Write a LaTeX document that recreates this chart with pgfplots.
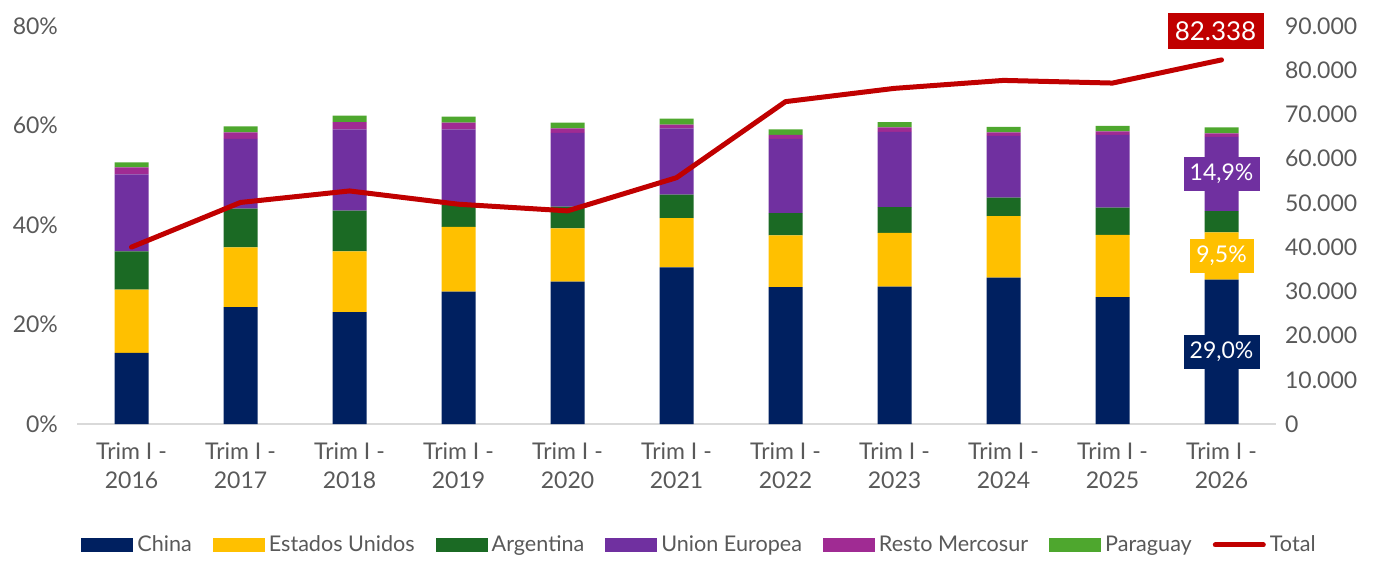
\documentclass[border=0pt]{standalone}
\usepackage{pgfplots}
\usepackage{pgfplotstable}
\pgfplotsset{compat=1.18}
\usepackage{fontspec}
\setmainfont{Lato}
\usetikzlibrary{calc}

\definecolor{cchina}{HTML}{002060}
\definecolor{cusa}{HTML}{FFC000}
\definecolor{carg}{HTML}{1B6A24}
\definecolor{cue}{HTML}{7030A0}
\definecolor{cresto}{HTML}{A02B93}
\definecolor{cpar}{HTML}{4EA72E}
\definecolor{ctotal}{HTML}{C00000}
\definecolor{tickgray}{HTML}{595959}
\definecolor{axgray}{HTML}{D9D9D9}

% participacion por destino (%) y total (miles)
\pgfplotstableread{
x  china usa  arg  ue   resto par total
0  14.3  12.7 7.7  15.5 1.4   1.0 40000
1  23.5  12.0 7.8  14.0 1.3   1.2 50100
2  22.5  12.2 8.2  16.3 1.5   1.3 52700
3  26.6  13.0 4.4  15.2 1.4   1.2 49700
4  28.6  10.7 4.4  14.8 0.9   1.2 48200
5  31.5  9.9  4.7  13.3 0.8   1.2 55700
6  27.5  10.4 4.5  14.9 0.8   1.1 72900
7  27.6  10.8 5.2  15.1 0.9   1.1 75900
8  29.4  12.4 3.7  12.4 0.7   1.1 77700
9  25.5  12.5 5.5  14.6 0.7   1.1 77100
10 29.0  9.5  4.3  14.9 0.7   1.2 82338
}\datatable

\tikzset{lbl/.style={text=white, font=\fontsize{11.5}{12}\selectfont, inner sep=3pt, minimum height=17pt}}

\begin{document}
\begin{tikzpicture}
\pgfplotsset{
  base/.style={
    scale only axis, width=599.5pt, height=199pt,
    xmin=-0.5, xmax=10.5,
    major tick length=0pt,
    /pgf/number format/assume math mode=true,
    tick label style={font=\fontsize{11.5}{14.5}\selectfont, text=tickgray},
  },
}
\begin{axis}[
  base, name=ax,
  ybar stacked, bar width=17pt,
  ymin=0, ymax=80, ytick={0,20,...,80},
  yticklabel={\pgfmathprintnumber{\tick}\%},
  yticklabel style={xshift=-6pt},
  axis x line*=bottom, axis y line*=left,
  x axis line style={draw=axgray, line width=1pt},
  y axis line style={draw=none},
  xtick={0,...,10},
  xticklabels={Trim I -\\2016,Trim I -\\2017,Trim I -\\2018,Trim I -\\2019,Trim I -\\2020,Trim I -\\2021,Trim I -\\2022,Trim I -\\2023,Trim I -\\2024,Trim I -\\2025,Trim I -\\2026},
  xticklabel style={align=center, yshift=-6pt},
  legend columns=7,
  legend style={at={(0.52,-0.304)}, anchor=center, draw=none,
    font=\fontsize{10.8}{12}\selectfont, text=tickgray,
    /tikz/every even column/.append style={column sep=8.5pt}},
  legend image code/.code={\fill[#1] (0pt,-3.5pt) rectangle (26pt,3.5pt);},
]
\addplot[fill=cchina, draw=none] table[x=x, y=china] {\datatable};
\addplot[fill=cusa, draw=none] table[x=x, y=usa] {\datatable};
\addplot[fill=carg, draw=none] table[x=x, y=arg] {\datatable};
\addplot[fill=cue, draw=none] table[x=x, y=ue] {\datatable};
\addplot[fill=cresto, draw=none] table[x=x, y=resto] {\datatable};
\addplot[fill=cpar, draw=none] table[x=x, y=par] {\datatable};
\addlegendimage{legend image code/.code={\draw[ctotal, line width=2.5pt, line cap=round] (1pt,0pt) -- (25pt,0pt);}}
\legend{China,Estados Unidos,Argentina,Union Europea,Resto Mercosur,Paraguay,Total}
\end{axis}
\begin{axis}[
  base, clip=false,
  ymin=0, ymax=90000, ytick={0,10000,...,90000},
  axis x line=none, axis y line*=right,
  y axis line style={draw=none},
  /pgf/number format/1000 sep={.},
  /pgf/number format/fixed,
  scaled y ticks=false,
  yticklabel style={xshift=1pt},
]
\addplot[ctotal, line width=2.5pt, line join=round, line cap=round, mark=none] table[x=x, y=total] {\datatable};
% etiquetas de la ultima barra (porcentajes llevados a la escala derecha: x 90000/80)
\node[lbl, fill=cchina, minimum width=38pt] at (axis cs:10,16312) {29,0\%};
\node[lbl, fill=cusa, minimum width=32pt] at (axis cs:10,37969) {9,5\%};
\node[lbl, fill=cue, minimum width=38pt] at (axis cs:10,56531) {14,9\%};
\node[fill=ctotal, text=white, font=\fontsize{13}{14}\selectfont, inner sep=3pt, minimum height=18pt, minimum width=48pt] at ($(axis cs:10,82338)+(-3pt,14.5pt)$) {82.338};
\end{axis}
\useasboundingbox ($(ax.south west)+(-38.5pt,-66pt)$) rectangle ($(ax.north east)+(49pt,13pt)$);
\end{tikzpicture}
\end{document}
